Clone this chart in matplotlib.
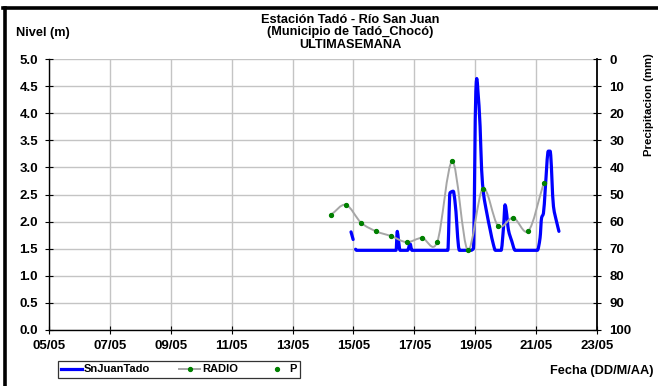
import matplotlib
matplotlib.use("Agg")
import matplotlib.pyplot as plt
from matplotlib.path import Path
from matplotlib.patches import PathPatch
from matplotlib.lines import Line2D
import numpy as np

plt.rcParams['font.family'] = ['Liberation Sans', 'DejaVu Sans']

# ---- data (x = day of May, fractional) ----
level_days = [14.92, 14.99, np.nan,
              15.07, 15.10, 16.40, 16.44, 16.48, 16.53, 16.78, 16.86, 16.92,
              18.10, 18.17, 18.28, 18.33, 18.48, 18.86, 18.94, 19.02, 19.05,
              19.09, 19.16, 19.21, 19.27, 19.38, 19.49, 19.60, 19.66, 19.85,
              19.93, 19.98, 20.02, 20.09, 20.20, 20.31, 21.04, 21.13, 21.18,
              21.24, 21.30, 21.40, 21.46, 21.57, 21.68, 21.75]
level_vals = [1.81, 1.67, np.nan,
              1.49, 1.47, 1.47, 1.82, 1.65, 1.47, 1.47, 1.59, 1.47,
              1.47, 2.53, 2.56, 2.40, 1.47, 1.47, 1.50, 4.40, 4.64,
              4.40, 3.76, 2.96, 2.53, 2.16, 1.85, 1.57, 1.47, 1.47,
              1.90, 2.31, 2.20, 1.85, 1.64, 1.47, 1.47, 1.70, 2.07,
              2.15, 2.60, 3.30, 3.30, 2.28, 1.98, 1.82]

radio_days = [14.25, 14.75, 15.25, 15.75, 16.25, 16.75, 17.25, 17.75,
              18.25, 18.75, 19.25, 19.75, 20.25, 20.75, 21.25]
radio_vals = [2.12, 2.31, 1.98, 1.82, 1.73, 1.62, 1.70, 1.62,
              3.11, 1.48, 2.61, 1.92, 2.07, 1.83, 2.71]

xtick_days = [5, 7, 9, 11, 13, 15, 17, 19, 21, 23]
xtick_labels = ["05/05", "07/05", "09/05", "11/05", "13/05",
                "15/05", "17/05", "19/05", "21/05", "23/05"]
ytick_left = [0.0, 0.5, 1.0, 1.5, 2.0, 2.5, 3.0, 3.5, 4.0, 4.5, 5.0]
ytick_right = [0, 10, 20, 30, 40, 50, 60, 70, 80, 90, 100]


def _pieces(xs, ys):
    xs = np.asarray(xs, float)
    ys = np.asarray(ys, float)
    good = ~(np.isnan(xs) | np.isnan(ys))
    idx = np.where(good)[0]
    for piece in np.split(idx, np.where(np.diff(idx) != 1)[0] + 1):
        if len(piece):
            yield xs[piece], ys[piece]


def smooth_path(xs, ys, monotone=False):
    """Smoothed line drawn as cubic Bezier curves through the data points.
    monotone=True uses Fritsch-Carlson tangents (no overshoot)."""
    verts, codes = [], []
    for x, y in _pieces(xs, ys):
        n = len(x)
        verts.append((x[0], y[0]))
        codes.append(Path.MOVETO)
        if n == 1:
            continue
        h = np.diff(x)
        d = np.diff(y) / h
        m = np.zeros(n)
        if monotone:
            m[0], m[-1] = d[0], d[-1]
            for k in range(1, n - 1):
                if d[k - 1] * d[k] <= 0:
                    m[k] = 0.0
                else:
                    w1 = 2 * h[k] + h[k - 1]
                    w2 = h[k] + 2 * h[k - 1]
                    m[k] = (w1 + w2) / (w1 / d[k - 1] + w2 / d[k])
        else:
            m[0], m[-1] = d[0], d[-1]
            for k in range(1, n - 1):
                m[k] = (y[k + 1] - y[k - 1]) / (x[k + 1] - x[k - 1])
        for k in range(n - 1):
            t = h[k] / 3.0
            verts += [(x[k] + t, y[k] + m[k] * t),
                      (x[k + 1] - t, y[k + 1] - m[k + 1] * t),
                      (x[k + 1], y[k + 1])]
            codes += [Path.CURVE4] * 3
    return Path(verts, codes)


fig = plt.figure(figsize=(6.58, 3.86), dpi=100)
ax = fig.add_axes([49/658, 1-330/386, (597-49)/658, (330-59)/386])

TICK_FS = 9.5
ax.set_xlim(5, 23)
ax.set_ylim(0, 5)
ax.set_xticks(xtick_days)
ax.set_xticklabels(xtick_labels)
ax.set_yticks(ytick_left)
ax.set_yticklabels([f"{v:.1f}" for v in ytick_left])
ax.grid(True, color='#c4c4c4', linewidth=1.0)
ax.set_axisbelow(True)
ax.spines['top'].set_visible(False)
ax.spines['right'].set_visible(False)
ax.spines['left'].set_color('black')
ax.spines['bottom'].set_color('black')
ax.spines['left'].set_linewidth(1.0)
ax.spines['bottom'].set_linewidth(1.0)
ax.tick_params(axis='x', direction='inout', length=6, width=0.8,
               labelsize=TICK_FS, pad=4)
ax.tick_params(axis='y', direction='inout', length=6, width=0.8,
               labelsize=TICK_FS, pad=5)
for lab in ax.get_xticklabels() + ax.get_yticklabels():
    lab.set_fontweight('bold')

# level line (smoothed, no overshoot)
ax.add_patch(PathPatch(smooth_path(level_days, level_vals, monotone=True),
                       fill=False, edgecolor='#0000ff', linewidth=2.3,
                       joinstyle='round', capstyle='round', zorder=3))

# smoothed radio line
ax.add_patch(PathPatch(smooth_path(radio_days, radio_vals), fill=False,
                       edgecolor='#a6a6a6', linewidth=1.4, zorder=4))
ax.plot(radio_days, radio_vals, linestyle='none', marker='o', markersize=2.8,
        color='#008000', zorder=5)

# secondary axis
ax2 = ax.twinx()
ax2.set_ylim(100, 0)
ax2.set_yticks(ytick_right)
ax2.set_yticklabels([str(v) for v in ytick_right])
for s in ['top', 'left', 'bottom']:
    ax2.spines[s].set_visible(False)
ax2.spines['right'].set_color('black')
ax2.spines['right'].set_linewidth(1.3)
ax2.tick_params(axis='y', direction='inout', length=6, width=0.8,
                labelsize=TICK_FS, pad=6)
for lab in ax2.get_yticklabels():
    lab.set_fontweight('bold')

# titles and labels
TFS = 9.2
fig.text(350/658, 1-20/386, "Estación Tadó - Río San Juan", ha='center', va='center',
         fontsize=TFS, fontweight='bold')
fig.text(350/658, 1-32.5/386, "(Municipio de Tadó_Chocó)", ha='center', va='center',
         fontsize=TFS, fontweight='bold')
fig.text(350/658, 1-45/386, "ULTIMASEMANA", ha='center', va='center',
         fontsize=TFS, fontweight='bold')
fig.text(16/658, 1-33/386, "Nivel (m)", ha='left', va='center',
         fontsize=TFS, fontweight='bold')
fig.text(649/658, 1-105/386, "Precipitacion (mm)", ha='center', va='center',
         rotation=90, fontsize=8.2, fontweight='bold')
fig.text(653/658, 1-371/386, "Fecha (DD/M/AA)", ha='right', va='center',
         fontsize=TFS, fontweight='bold')

# legend
handles = [Line2D([], [], color='#0000ff', linewidth=2.3),
           Line2D([], [], color='#a6a6a6', linewidth=1.4, marker='o',
                  markersize=2.8, markerfacecolor='#008000',
                  markeredgecolor='#008000'),
           Line2D([], [], linestyle='none', marker='o', markersize=2.8,
                  color='#008000')]
leg = fig.legend(handles, ["SnJuanTado", "RADIO", "P"], ncol=3,
                 loc='center', bbox_to_anchor=(179/658, 1-369.5/386),
                 frameon=True, fancybox=False,
                 handlelength=1.9, handletextpad=0.15, columnspacing=2.6,
                 borderpad=0.3, prop={'weight': 'bold', 'size': 8})
leg.get_frame().set_edgecolor('black')
leg.get_frame().set_linewidth(0.9)

# outer thick border (top and left)
fig.add_artist(Line2D([3/658, 1.0], [1-8/386, 1-8/386], color='black',
                      linewidth=2.6, transform=fig.transFigure))
fig.add_artist(Line2D([5/658, 5/658], [0, 1-8/386], color='black',
                      linewidth=2.6, transform=fig.transFigure))

fig.savefig("out.png", dpi=100)
